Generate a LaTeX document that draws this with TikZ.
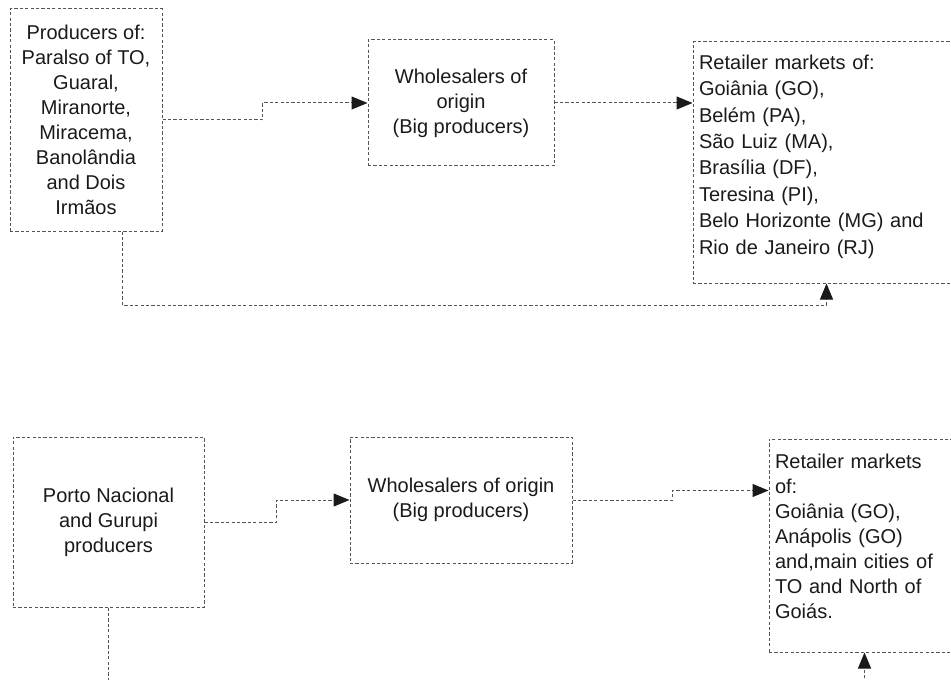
\documentclass[tikz,border=0pt]{standalone}
\usepackage{fontspec}
\setmainfont{Liberation Sans}
\usetikzlibrary{arrows.meta,calc}
\definecolor{ChainInk}{HTML}{1A1A1A}
\definecolor{ChainLine}{HTML}{555555}

\begin{document}
\begin{tikzpicture}[
  x=0.5pt,
  y=-0.5pt,
  font=\fontsize{10}{12.5}\selectfont,
  box/.style={
    draw=ChainLine,
    dash pattern=on 1.6pt off 1.1pt,
    line width=0.5pt,
    text=ChainInk,
    inner sep=2pt
  },
  prodbox/.style={box, align=center},
  wholebox/.style={box, align=center},
  retailbox/.style={box, align=left, inner xsep=3pt},
  link/.style={line width=0.5pt, draw=ChainLine, dash pattern=on 1.6pt off 1.1pt},
  arrow/.style={link, -{Triangle[length=8pt,width=6.5pt,color=ChainInk]}}
]
\clip (0,0) rectangle (951,679);
\coordinate (floor) at (0,700);

% upper chain
\node[prodbox, minimum width=76pt, minimum height=111pt] (prodA) at (86,120)
  {Producers of:\\Paralso of TO,\\Guaral,\\Miranorte,\\Miracema,\\Banolândia\\and Dois\\Irmãos};
\node[wholebox, minimum width=93pt, minimum height=63pt] (wholeA) at (461,103)
  {Wholesalers of\\origin\\(Big producers)};
\node[retailbox, font=\fontsize{10}{13.2}\selectfont, minimum width=133.5pt, text width=127.5pt, minimum height=120.5pt] (retailA) at (826.5,162.5)
  {Retailer markets of:\\Goiânia (GO),\\Belém (PA),\\São Luiz (MA),\\Brasília (DF),\\Teresina (PI),\\Belo Horizonte (MG) and\\Rio de Janeiro (RJ)\par\vspace{6pt}};

% lower chain
\node[prodbox, minimum width=95.5pt, minimum height=85pt] (prodB) at (108.5,522)
  {Porto Nacional\\and Gurupi\\producers};
\node[wholebox, minimum width=111pt, minimum height=63pt] (wholeB) at (461,500)
  {Wholesalers of origin\\(Big producers)};
\node[retailbox, minimum width=95.5pt, text width=89.5pt, minimum height=106.5pt] (retailB) at (864.5,545.5)
  {Retailer markets\\of:\\Goiânia (GO),\\Anápolis (GO)\\and,main cities of\\TO and North of\\Goiás.\par\vspace{9pt}};

\draw[arrow] (prodA.east) -- ++(100,0) |- (wholeA.west);
\draw[arrow] (wholeA.east) -- (wholeA.east -| retailA.west);
\draw[arrow] ($(prodA.south west)!0.74!(prodA.south east)$) -- ++(0,74) -| (retailA.south);

\draw[arrow] (prodB.east) -- ++(72,0) |- (wholeB.west);
\draw[arrow] (wholeB.east) -- ++(100,0) |- ([yshift=-26pt]retailB.north west);
\draw[link] (prodB.south) -- (prodB.south |- floor);
\draw[arrow] (retailB.south |- floor) -- (retailB.south);
\end{tikzpicture}
\end{document}
